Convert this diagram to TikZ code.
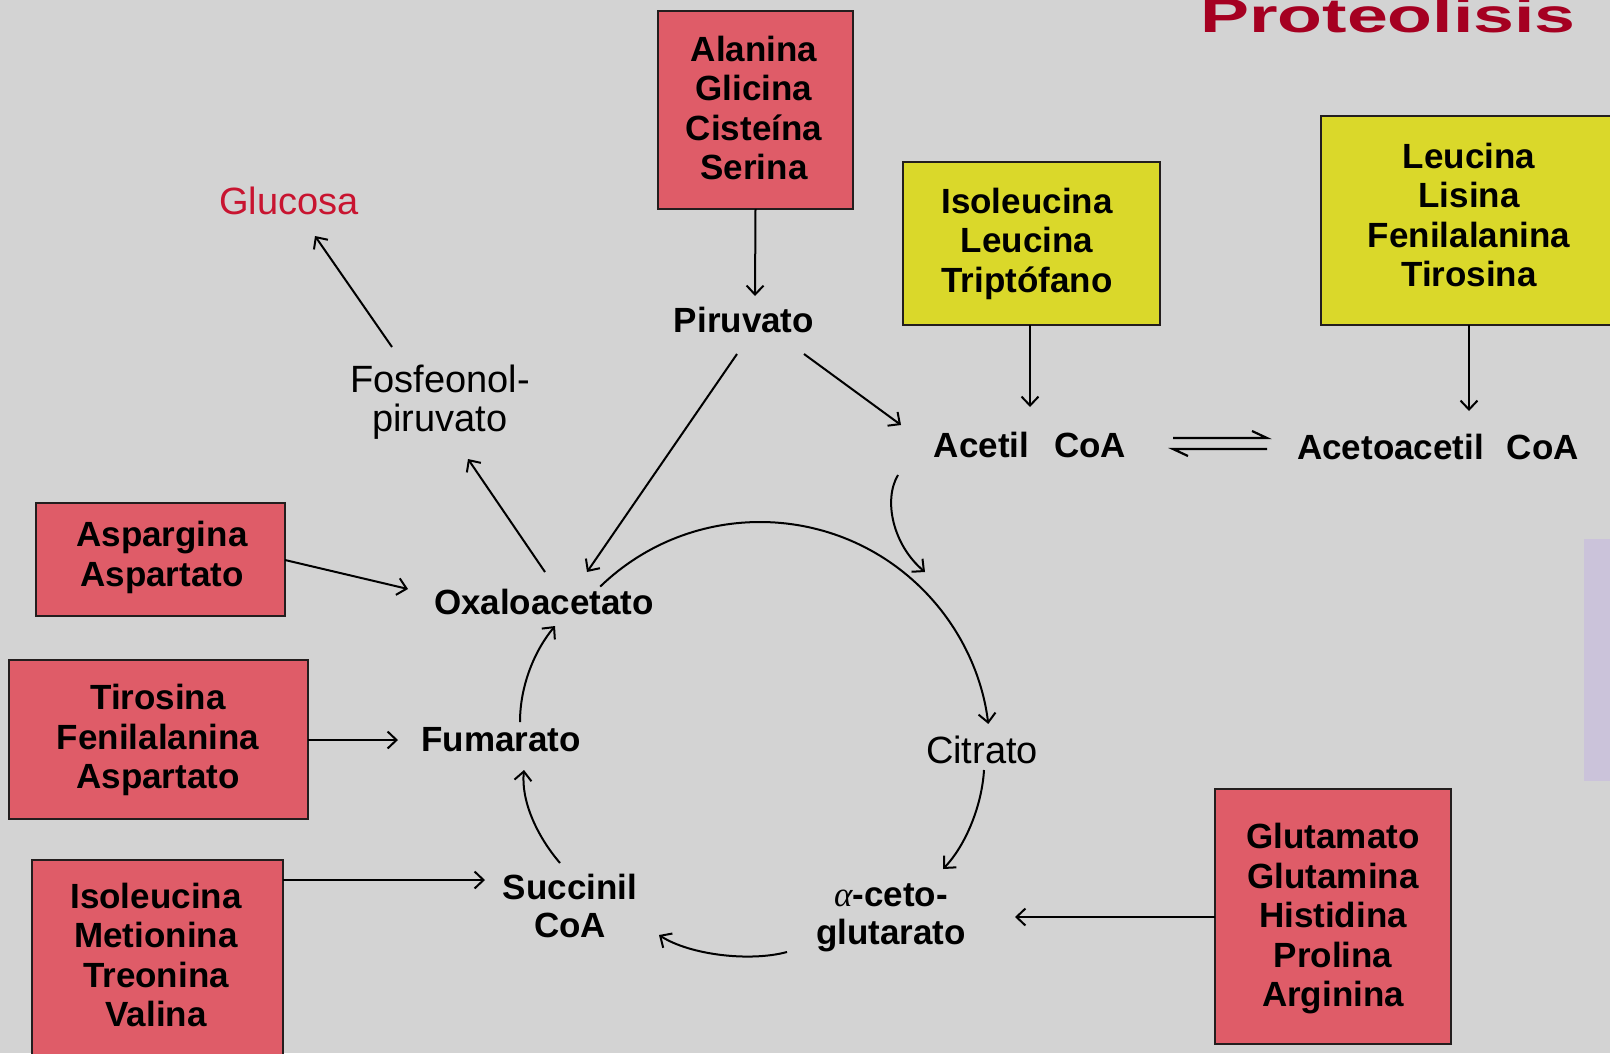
\documentclass[tikz,border=0pt]{standalone}
\usepackage{fontspec}
\setmainfont{Liberation Sans}
\newfontfamily\greekfont{Liberation Serif}
\usepackage{graphicx}
\usetikzlibrary{arrows.meta,calc}
\definecolor{bgc}{RGB}{211,211,211}
\definecolor{redfill}{RGB}{223,92,104}
\definecolor{yelfill}{RGB}{218,216,42}
\definecolor{boxline}{RGB}{35,30,30}
\definecolor{titlered}{RGB}{165,0,33}
\definecolor{glured}{RGB}{200,20,48}
\definecolor{lilac}{RGB}{203,195,218}
\begin{document}
\begin{tikzpicture}[x=1pt,y=-1pt,
  redbox/.style={draw=boxline, line width=2.5pt, fill=redfill, inner sep=0pt, outer sep=0pt},
  yelbox/.style={draw=boxline, line width=2.5pt, fill=yelfill, inner sep=0pt, outer sep=0pt},
  boxtext/.style={align=center, inner sep=0pt, font=\fontsize{35}{39.5}\selectfont\bfseries},
  lbl/.style={inner sep=0pt, anchor=base, font=\fontsize{35}{39}\selectfont\bfseries},
  lbltwo/.style={inner sep=0pt, align=center, font=\fontsize{35}{38}\selectfont\bfseries},
  rlbl/.style={inner sep=0pt, anchor=base, font=\fontsize{38}{39}\selectfont},
  arr/.style={line width=2pt, -{Straight Barb[length=9pt,width=17pt,line width=2pt]}},
  eqline/.style={line width=2.2pt}
]
\useasboundingbox (0,0) rectangle (1610,1053);
\clip (0,0) rectangle (1610,1053);
\fill[bgc] (0,0) rectangle (1610,1053);
\fill[lilac] (1584,539) rectangle (1615,781);

% title
\node[anchor=base west, inner sep=0pt, text=titlered,
      font=\fontsize{48}{50}\selectfont\bfseries] (title) at (1200,32)
      {\scalebox{1.53}[1]{Proteolisis}};

% boxes
\node[redbox, minimum width=195pt, minimum height=198pt] (alan) at (755.5,110) {};
\node[boxtext] (alanT) at (754,108) {Alanina\\Glicina\\Cisteína\\Serina};

\node[yelbox, minimum width=257pt, minimum height=163pt] (yel1) at (1031.5,243.5) {};
\node[boxtext] (yel1T) at (1027,243.5) {Isoleucina\\Leucina\\Triptófano};

\node[yelbox, minimum width=299pt, minimum height=209pt] (yel2) at (1470.5,220.5) {};
\node[boxtext] (yel2T) at (1469,215) {Leucina\\Lisina\\Fenilalanina\\Tirosina};

\node[redbox, minimum width=249pt, minimum height=113pt] (asp) at (160.5,559.5) {};
\node[boxtext] (aspT) at (162,557.5) {Aspargina\\Aspartato};

\node[redbox, minimum width=299pt, minimum height=159pt] (tir) at (158.5,739.5) {};
\node[boxtext] (tirT) at (158,740) {Tirosina\\Fenilalanina\\Aspartato};

\node[redbox, minimum width=251pt, minimum height=210pt] (iso) at (157.5,965) {};
\node[boxtext] (isoT) at (156,955) {Isoleucina\\Metionina\\Treonina\\Valina};

\node[redbox, minimum width=236pt, minimum height=255pt] (glu) at (1333,916.5) {};
\node[boxtext] (gluT) at (1333,919) {Glutamato\\Glutamina\\Histidina\\Prolina\\Arginina};

% labels
\node[lbl] (piru) at (744,332) {Piruvato};
\node[lbl] (acetil) at (1030,457) {Acetil\hspace{25pt}CoA};
\node[lbl] (acac) at (1438,459) {Acetoacetil\hspace{23pt}CoA};
\node[lbl] (oxa) at (544,614) {Oxaloacetato};
\node[lbl] (fum) at (501,751) {Fumarato};
\node[lbltwo] (succ) at (570,906) {Succinil\\CoA};
\node[rlbl] (citr) at (982,763) {Citrato};
\node[lbltwo] (aceto) at (891,918) {{\greekfont\itshape\mdseries α}-ceto-\\glutarato};
\node[inner sep=0pt, align=center, font=\fontsize{38}{39}\selectfont] (fosf) at (440,402) {Fosfeonol-\\piruvato};
\node[rlbl, text=glured] (gluc) at (289,214) {Glucosa};

% arrow end points
\coordinate (piruIn) at (755,296);
\coordinate (piruOutL) at (737,354);
\coordinate (piruOutR) at (804,354);
\coordinate (oxaInP) at (587,572);
\coordinate (acetInP) at (901,425);
\coordinate (acetInY) at (1030,407);
\coordinate (acacInY) at (1469,411);
\coordinate (oxaOut) at (545,572);
\coordinate (fosfIn) at (468,459);
\coordinate (fosfOut) at (392,347);
\coordinate (glucIn) at (315,236);
\coordinate (aspOut) at (285,560);
\coordinate (oxaInA) at (408,589);
\coordinate (fumIn) at (398,740);
\coordinate (succIn) at (485,880);
\coordinate (akgIn) at (1015,917);
\coordinate (acetOut) at (898,475);
\coordinate (cycIn) at (925,572);
\coordinate (cycC) at (760,752);
\coordinate (oxaArc) at ($(cycC)+(-134:230)$);
\coordinate (citrOut) at (984,770);
\coordinate (akgInC) at (943,869);
\coordinate (akgOut) at (787,952);
\coordinate (succInC) at (659,935);
\coordinate (succOut) at (560,863);
\coordinate (fumInC) at (524,770);
\coordinate (fumOut) at (520,722);
\coordinate (oxaInF) at (555,626);
\coordinate (eqL1) at (1173,438);
\coordinate (eqR1) at (1267,438);
\coordinate (eqL2) at (1173,449);
\coordinate (eqR2) at (1267,449);

% connectors
\draw[arr] (alan.south) -- (piruIn);
\draw[arr] (piruOutL) -- (oxaInP);
\draw[arr] (piruOutR) -- (acetInP);
\draw[arr] (yel1.south -| acetInY) -- (acetInY);
\draw[arr] (yel2.south -| acacInY) -- (acacInY);
\draw[arr] (oxaOut) -- (fosfIn);
\draw[arr] (fosfOut) -- (glucIn);
\draw[arr] (aspOut) -- (oxaInA);
\draw[arr] (tir.east |- fumIn) -- (fumIn);
\draw[arr] (iso.east |- succIn) -- (succIn);
\draw[arr] (glu.west |- akgIn) -- (akgIn);
\draw[arr] (acetOut) .. controls (883,500) and (893,545) .. (cycIn);
\draw[arr] (oxaArc) arc[start angle=-134, end angle=-7, radius=230];
\draw[arr] (citrOut) .. controls (982,805) and (966,845) .. (akgInC);
\draw[arr] (akgOut) .. controls (750,962) and (690,955) .. (succInC);
\draw[arr] (succOut) .. controls (536,835) and (521,800) .. (fumInC);
\draw[arr] (fumOut) .. controls (520,685) and (535,650) .. (oxaInF);
\draw[eqline] (eqL1) -- (eqR1) -- ++(-15,-7);
\draw[eqline] (eqR2) -- (eqL2) -- ++(15,7);
\end{tikzpicture}
\end{document}
